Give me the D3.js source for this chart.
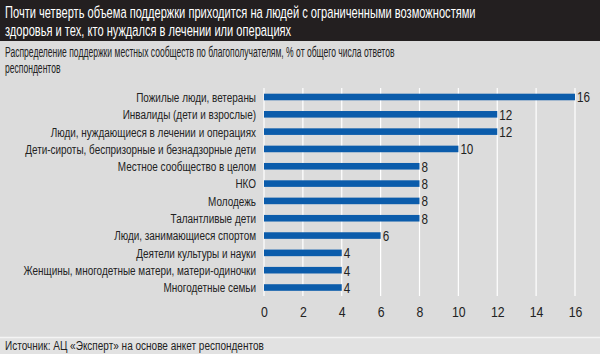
<!DOCTYPE html>
<html>
<head>
<meta charset="utf-8">
<title></title>
<style type="text/css">
  body { margin: 0; }
  svg { display: block; font-family: "Liberation Sans", Arial, sans-serif; }
</style>
<script src="https://cdn.jsdelivr.net/npm/d3@7"></script>
</head>
<body>
<svg width="600" height="354"></svg>
<script>
var categories = [
  "Пожилые люди, ветераны",
  "Инвалиды (дети и взрослые)",
  "Люди, нуждающиеся в лечении и операциях",
  "Дети-сироты, беспризорные и безнадзорные дети",
  "Местное сообщество в целом",
  "НКО",
  "Молодежь",
  "Талантливые дети",
  "Люди, занимающиеся спортом",
  "Деятели культуры и науки",
  "Женщины, многодетные матери, матери-одиночки",
  "Многодетные семьи"
];
var values = [16, 12, 12, 10, 8, 8, 8, 8, 6, 4, 4, 4];
var ticks = [0, 2, 4, 6, 8, 10, 12, 14, 16];

var titleLines = [
  "Почти четверть объема поддержки приходится на людей с ограниченными возможностями",
  "здоровья и тех, кто нуждался в лечении или операциях"
];
var subtitleLines = [
  "Распределение поддержки местных сообществ по благополучателям, % от общего числа ответов",
  "респондентов"
];
var source = "Источник: АЦ «Эксперт» на основе анкет респондентов";

var svg = d3.select("svg");

// squeeze a group of texts horizontally so that the first one gets width w (condensed look)
function condense(sel, w, xf, yf) {
  var k = w / sel.node().getComputedTextLength();
  sel.attr("x", 0).attr("y", 0)
    .attr("transform", function(d, i) { return "translate(" + xf(d, i) + "," + yf(d, i) + ") scale(" + k + ",1)"; });
  return k;
}

// background
svg.append("rect").attr("width", 600).attr("height", 354).attr("fill", "#dcdcdc");
svg.append("rect").attr("y", 338).attr("width", 600).attr("height", 16).attr("fill", "#e2e2e2");
svg.append("line").attr("x1", 0).attr("x2", 600).attr("y1", 337.5).attr("y2", 337.5)
  .attr("stroke", "#f4f4f4").attr("stroke-width", 1.5);

// title bar
svg.append("rect").attr("width", 600).attr("height", 41).attr("fill", "#231f20");
var title = svg.append("g").selectAll("text").data(titleLines).enter().append("text")
  .attr("fill", "#fff").attr("font-size", 17).text(function(d) { return d; });
condense(title, 471, function() { return 5; }, function(d, i) { return 18 + i * 18; });

var sub = svg.append("g").selectAll("text").data(subtitleLines).enter().append("text")
  .attr("fill", "#222").attr("font-size", 14.5).text(function(d) { return d; });
condense(sub, 390, function() { return 5; }, function(d, i) { return 57 + i * 16; });

var x = d3.scaleLinear().domain([0, 16]).range([264, 575]);
var y = d3.scaleBand().domain(categories).range([88.5, 296]).paddingInner(0.62).paddingOuter(0.3);

// grid
svg.append("g").selectAll("line").data(ticks).enter().append("line")
  .attr("x1", function(d) { return x(d); }).attr("x2", function(d) { return x(d); })
  .attr("y1", 88).attr("y2", 296)
  .attr("stroke", "#fff").attr("stroke-width", 1.2);

// bars
svg.append("g").selectAll("rect").data(values).enter().append("rect")
  .attr("x", x(0))
  .attr("y", function(d, i) { return y(categories[i]); })
  .attr("width", function(d) { return x(d) - x(0); })
  .attr("height", y.bandwidth())
  .attr("fill", "#0b5cab");

// values
var vals = svg.append("g").selectAll("text").data(values).enter().append("text")
  .attr("dy", "0.36em").attr("font-size", 15).attr("fill", "#222")
  .text(function(d) { return d; });
condense(vals, 13, function(d) { return x(d) + 2; },
  function(d, i) { return y(categories[i]) + y.bandwidth() / 2; });

// category labels (width taken from the longest label)
var labs = svg.append("g").selectAll("text").data(categories).enter().append("text")
  .attr("dy", "0.36em").attr("text-anchor", "end").attr("font-size", 13.5).attr("fill", "#222")
  .text(function(d) { return d; });
var kLab = 231 / labs.filter(function(d, i) { return i === 3; }).node().getComputedTextLength();
labs.attr("transform", function(d) { return "translate(256," + (y(d) + y.bandwidth() / 2) + ") scale(" + kLab + ",1)"; });

// x axis
var xAxis = d3.axisBottom(x).tickValues(ticks).tickSize(0).tickPadding(0);
var ax = svg.append("g").attr("transform", "translate(0,306)").call(xAxis);
ax.select(".domain").remove();
ax.selectAll("text").attr("font-size", 15).attr("fill", "#222")
  .attr("font-family", "\"Liberation Sans\", Arial, sans-serif")
  .attr("transform", "scale(0.82,1)");

var src = svg.append("text").attr("font-size", 13.5).attr("fill", "#222").text(source);
condense(src, 259, function() { return 5; }, function() { return 350; });
</script>
</body>
</html>
